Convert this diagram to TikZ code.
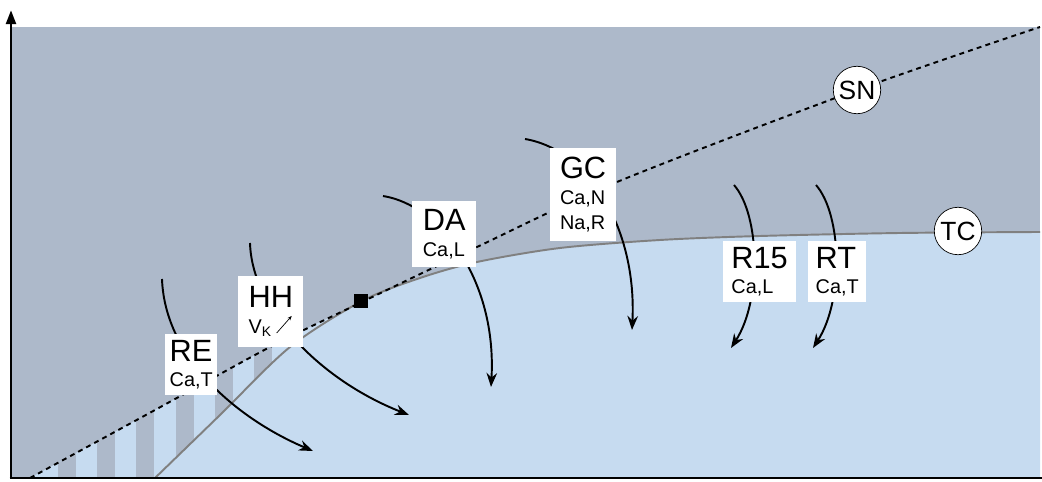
\documentclass[tikz,border=0pt]{standalone}
\usepackage{fontspec}
\setmainfont{Liberation Sans}
\usetikzlibrary{positioning, arrows.meta}

\definecolor{upper}{RGB}{173,185,202}
\definecolor{lower}{RGB}{198,219,240}
\newcommand{\subline}{\fontsize{11.3}{14.5}\selectfont}

\begin{document}
\begin{tikzpicture}[
        x=0.02cm, y=-0.02cm,
        phase/.style={fill=white, anchor=north west, inner xsep=4.5pt, inner ysep=3.3pt, align=left, font=\fontsize{17.5}{14.5}\selectfont},
        point/.style={circle, draw, thin, fill=white, minimum size=27pt, inner sep=0pt, font=\fontsize{15}{15}\selectfont},
        flow/.style={-{Stealth[length=8pt, width=6pt]}, line width=1.1pt},
        axis/.style={line width=1.7pt},
        sncurve/.style={line width=1.1pt, dash pattern=on 2.8pt off 2.4pt},
        tccurve/.style={line width=1.1pt, gray}
      ]
        \useasboundingbox (0,0) rectangle (1042,482);

        % Regions
        \fill[upper] (11,27) rectangle (1040,478);
        \begin{scope}
          \clip plot[smooth] coordinates {(30,478) (155,410) (270,347) (362,302) (477,247) (617,182) (857,90) (1040,27)} -- (1040,478) -- cycle;
          \fill[lower] (11,200) rectangle (362,478);
          \foreach \i in {0,...,5}
            \fill[upper] ({58+39.2*\i},200) rectangle ++(18,278);
        \end{scope}
        \fill[lower] plot[smooth] coordinates {(155,478) (220,415) (290,347) (362,301) (420,278) (477,262) (560,248) (660,240) (760,236) (900,233) (1040,232)} -- (1040,478) -- cycle;

        % Curves
        \draw[tccurve] plot[smooth] coordinates {(155,478) (220,415) (290,347) (362,301) (420,278) (477,262) (560,248) (660,240) (760,236) (900,233) (1040,232)};
        \draw[sncurve] plot[smooth] coordinates {(30,478) (155,410) (270,347) (362,302) (477,247) (617,182) (857,90) (1040,27)};

        % Axes
        \coordinate (origin) at (11,478);
        \coordinate (ytop) at (11,10);
        \coordinate (xend) at (1042,478);
        \draw[axis, -{Triangle[length=8pt, width=5.5pt]}] (origin) -- (ytop);
        \draw[axis] ([xshift=-0.85pt]origin) -- (xend);

        % Fixed point
        \node[fill=black, minimum size=7.8pt, inner sep=0pt] (fix) at (361,301) {};

        % Arrows
        \coordinate (re-in) at (162,279);  \coordinate (re-out) at (313,451);
        \coordinate (hh-in) at (250,243);  \coordinate (hh-out) at (409,415);
        \coordinate (da-in) at (383,196);  \coordinate (da-out) at (491,387);
        \coordinate (gc-in) at (525,139);  \coordinate (gc-out) at (632,330);
        \coordinate (rf-in) at (734,185);  \coordinate (rf-out) at (731,348);
        \coordinate (rt-in) at (816,185);  \coordinate (rt-out) at (813,348);
        \draw[flow] (re-in) .. controls (165,360) and (240,420) .. (re-out);
        \draw[flow] (hh-in) .. controls (252,310) and (320,380) .. (hh-out);
        \draw[flow] (da-in) .. controls (440,205) and (497,280) .. (da-out);
        \draw[flow] (gc-in) .. controls (590,150) and (637,230) .. (gc-out);
        \draw[flow] (rf-in) .. controls (760,215) and (762,300) .. (rf-out);
        \draw[flow] (rt-in) .. controls (842,215) and (844,300) .. (rt-out);

        % Labels
        \node[phase, inner xsep=2.5pt] (re) at (165,334) {RE\\\subline Ca,T};
        \node[phase, minimum width=37pt, minimum height=40pt] (hh) at (238,276) {HH\\\subline V\textsubscript{K}};
        \draw[-{Stealth[length=2.5pt, width=2pt]}, line width=0.4pt] ([shift={(-27,-14)}]hh.south east) -- ++(15,-17);
        \node[phase, inner xsep=6pt, minimum height=37.5pt] (da) at (412,201) {DA\\\subline Ca,L};
        \node[phase, inner xsep=5.5pt, minimum height=53pt] (gc) at (550,148) {GC\\\subline Ca,N\\\subline Na,R};
        \node[phase, inner xsep=4.6pt] (r15) at (723,241) {R15\\\subline Ca,L};
        \node[phase, inner xsep=4.2pt] (rt) at (808,241) {RT\\\subline Ca,T};

        % Bifurcations
        \node[point] (sn) at (857,90) {SN};
        \node[point] (tc) at (958,231) {TC};

      \end{tikzpicture}
\end{document}
